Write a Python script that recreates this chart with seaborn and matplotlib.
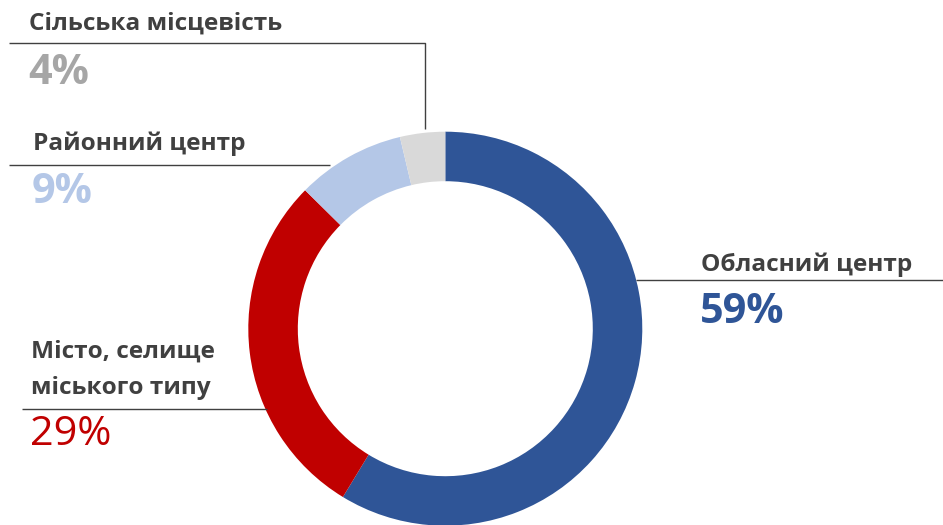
import matplotlib
matplotlib.use("Agg")
import matplotlib.pyplot as plt
import seaborn as sns

# shares (clockwise from 12 o'clock)
categories = ["Обласний центр", "Місто, селище\nміського типу", "Районний центр", "Сільська місцевість"]
shares = [58.7, 28.7, 8.9, 3.7]
colors = ["#2F5597", "#C00000", "#B4C7E7", "#D9D9D9"]
pct_colors = ["#2F5597", "#C00000", "#B4C7E7", "#A6A6A6"]
pct_weights = ["bold", "normal", "bold", "bold"]

W, H = 943, 525
sns.set_theme(style="white")
plt.rcParams["font.family"] = ["Open Sans", "DejaVu Sans"]

fig = plt.figure(figsize=(W / 100, H / 100), dpi=100)
ax = fig.add_axes([0, 0, 1, 1])

cx, cy, r = 445.3, 328.7, 197
ax.pie(
    shares, colors=colors, startangle=90, counterclock=False,
    center=(cx, H - cy), radius=r,
    wedgeprops={"width": 49.5, "linewidth": 0},
)
ax.set_xlim(0, W)
ax.set_ylim(0, H)
ax.set_axis_off()

line_kw = dict(color="#404040", linewidth=1.0, solid_capstyle="butt")


def px(points):
    xs = [p[0] for p in points]
    ys = [H - p[1] for p in points]
    return xs, ys


# leader lines (pixel layout)
leaders = [
    [(636, 280), (943, 280)],
    [(267, 409), (22, 409)],
    [(330, 165), (9, 165)],
    [(425, 129), (425, 43), (9, 43)],
]
for pts in leaders:
    ax.plot(*px(pts), **line_kw)

# label anchors: (x, name baseline, pct baseline)
anchors = [
    (701, 271, 323),
    (31, 358, 445),
    (33, 150, 203),
    (29, 30, 84),
]
for name, val, pc, pw, (x, yb, yp) in zip(categories, shares, pct_colors, pct_weights, anchors):
    lines = name.split("\n")
    for k, ln in enumerate(lines):
        ax.text(x, H - (yb + 36 * k), ln, ha="left", va="baseline",
                fontsize=17.6, fontweight="bold", color="#404040")
    ax.text(x - 1, H - yp, f"{round(val)}%", ha="left", va="baseline",
            fontsize=29.8, fontweight=pw, color=pc)

fig.savefig("out.png", dpi=100)
